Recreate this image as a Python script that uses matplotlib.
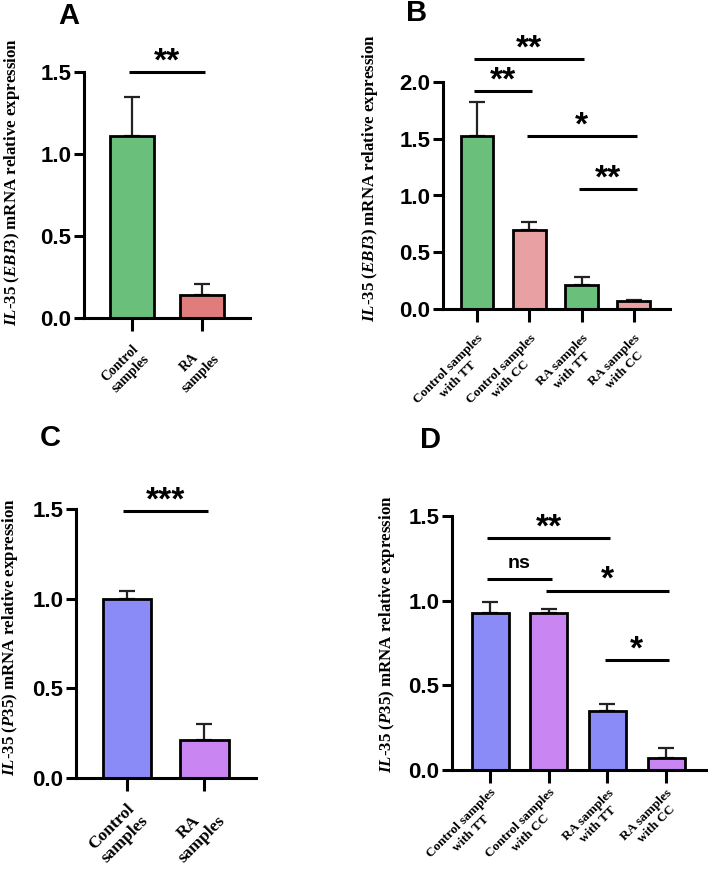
import matplotlib
matplotlib.use("Agg")
import matplotlib.pyplot as plt

W, H = 708, 871

# ---------------- data ----------------
a_cats = ["Control\nsamples", "RA\nsamples"]
a_vals = [1.11, 0.14]
a_errs = [0.24, 0.07]

b_cats = ["Control samples\nwith TT", "Control samples\nwith CC", "RA samples\nwith TT", "RA samples\nwith CC"]
b_vals = [1.52, 0.70, 0.21, 0.07]
b_errs = [0.30, 0.07, 0.07, 0.01]

c_cats = ["Control\nsamples", "RA\nsamples"]
c_vals = [1.00, 0.21]
c_errs = [0.04, 0.09]

d_cats = ["Control samples\nwith TT", "Control samples\nwith CC", "RA samples\nwith TT", "RA samples\nwith CC"]
d_vals = [0.93, 0.93, 0.35, 0.07]
d_errs = [0.06, 0.02, 0.04, 0.06]

a_sig = [(0, 1, 1.50, "**")]
b_sig = [(0, 2, 2.20, "**"), (0, 1, 1.92, "**"), (1, 3, 1.52, "*"), (2, 3, 1.06, "**")]
c_sig = [(0, 1, 1.49, "***")]
d_sig = [(0, 2, 1.37, "**"), (0, 1, 1.13, "ns"), (1, 3, 1.06, "*"), (2, 3, 0.65, "*")]

green = "#6ABF7B"
red_a = "#E07C7C"
pink_b = "#E8A0A2"
blue = "#8B8BF8"
purple = "#C986F2"

plt.rcParams['mathtext.fontset'] = 'custom'
plt.rcParams['mathtext.it'] = 'Liberation Serif:italic:bold'
plt.rcParams['mathtext.rm'] = 'Liberation Serif:bold'
plt.rcParams['mathtext.bf'] = 'Liberation Serif:bold'

fig = plt.figure(figsize=(W / 100, H / 100), dpi=100)


def make_ax(l, r, b, t):
    return fig.add_axes([l / W, 1 - b / H, (r - l) / W, (b - t) / H])


def panel(ax, cats, vals, errs, colors, ymax, yticks, xlim, sig, ylabel,
          xfs, xpad, letter, letter_xy, ylab_xy):
    x = list(range(len(vals)))
    ax.bar(x, vals, width=0.63, color=colors, edgecolor="black", linewidth=2.0, zorder=2)
    ax.errorbar(x, vals, yerr=[[0] * len(errs), errs], fmt="none", ecolor="#222222",
                elinewidth=1.6, capsize=5.5, capthick=1.6, zorder=1)
    ax.set_ylim(0, ymax)
    ax.set_xlim(*xlim)
    ax.set_yticks(yticks)
    ax.set_yticklabels([f"{v:.1f}" for v in yticks], fontfamily="Liberation Sans",
                       fontweight="bold", fontsize=16)
    ax.set_xticks(x)
    ax.set_xticklabels(cats, rotation=45, ha="right", rotation_mode="anchor",
                       fontfamily="Liberation Serif", fontweight="bold", fontsize=xfs,
                       multialignment="center")
    for s in ["top", "right"]:
        ax.spines[s].set_visible(False)
    for s in ["left", "bottom"]:
        ax.spines[s].set_linewidth(2.2)
    ax.tick_params(axis="y", width=2.2, length=7, pad=2)
    ax.tick_params(axis="x", width=2.2, length=9, pad=xpad)
    fig.text(ylab_xy[0] / W, 1 - ylab_xy[1] / H, ylabel, rotation=90, ha="center",
             va="center", fontfamily="Liberation Serif", fontweight="bold", fontsize=12.2)
    for i, j, y, lab in sig:
        ax.plot([i - 0.05, j + 0.05], [y, y], color="black", lw=2.2,
                clip_on=False, solid_capstyle="butt")
        if lab == "ns":
            ax.annotate(lab, xy=((i + j) / 2, y), xytext=(0, 5), textcoords="offset points",
                        ha="center", va="bottom", fontsize=14, fontweight="bold",
                        fontfamily="Liberation Sans", annotation_clip=False)
        else:
            ax.annotate(lab, xy=((i + j) / 2, y), xytext=(0, -4), textcoords="offset points",
                        ha="center", va="bottom", fontsize=24, fontweight="bold",
                        fontfamily="Liberation Sans", annotation_clip=False)
    fig.text(letter_xy[0] / W, 1 - letter_xy[1] / H, letter, fontsize=21,
             fontweight="bold", fontfamily="Liberation Sans", ha="center", va="center")


ylab_ebi3 = r"$\mathit{IL}$-$\mathit{35\ (EBI3)}$ mRNA relative expression"
ylab_p35 = r"$\mathit{IL}$-$\mathit{35\ (P35)}$ mRNA relative expression"

axA = make_ax(84, 250, 318, 72)
panel(axA, a_cats, a_vals, a_errs, [green, red_a], 1.5, [0.0, 0.5, 1.0, 1.5],
      (-0.686, 1.686), a_sig, ylab_ebi3, 10, 8, "A", (69, 16), (12, 182))

axB = make_ax(443, 670, 309, 82)
panel(axB, b_cats, b_vals, b_errs, [green, pink_b, green, pink_b], 2.0,
      [0.0, 0.5, 1.0, 1.5, 2.0], (-0.65, 3.69), b_sig, ylab_ebi3, 9.5, 8, "B", (417, 13), (370, 178))

axC = make_ax(76, 256, 778, 509)
panel(axC, c_cats, c_vals, c_errs, [blue, purple], 1.5, [0.0, 0.5, 1.0, 1.5],
      (-0.66, 1.67), c_sig, ylab_p35, 12.5, 7, "C", (50, 438), (10, 637))

axD = make_ax(452, 706, 770, 516)
panel(axD, d_cats, d_vals, d_errs, [blue, purple, blue, purple], 1.5, [0.0, 0.5, 1.0, 1.5],
      (-0.65, 3.68), d_sig, ylab_p35, 9.5, 3, "D", (430, 440), (387, 634))

fig.savefig("out.png", dpi=100)
